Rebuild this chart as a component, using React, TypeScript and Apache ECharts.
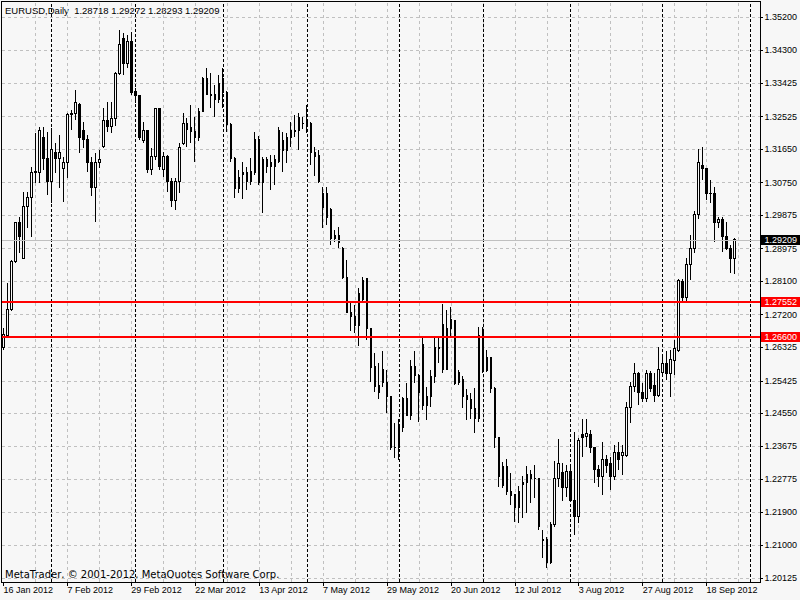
import React, { useEffect, useRef } from 'react';
import * as echarts from 'echarts';

// ---- data ----
const firstDate = '2012-01-16';
const futureSlots = 6;

const open = [
  1.2631, 1.2663, 1.2733, 1.2862, 1.2967, 1.2872, 1.3010, 1.3034, 1.3103, 1.3103,
  1.3197, 1.3141, 1.3079, 1.3157, 1.3141, 1.3112, 1.3128, 1.3257, 1.3260, 1.3286,
  1.3214, 1.3190, 1.3128, 1.3063, 1.3128, 1.3173, 1.3241, 1.3225, 1.3246, 1.3369,
  1.3461, 1.3394, 1.3453, 1.3321, 1.3308, 1.3187, 1.3214, 1.3109, 1.3144, 1.3273,
  1.3109, 1.3144, 1.3077, 1.3028, 1.3077, 1.3179, 1.3235, 1.3222, 1.3211, 1.3195,
  1.3267, 1.3356, 1.3313, 1.3313, 1.3299, 1.3356, 1.3318, 1.3230, 1.3141, 1.3060,
  1.3096, 1.3101, 1.3077, 1.3101, 1.3190, 1.3074, 1.3138, 1.3128, 1.3117, 1.3133,
  1.3187, 1.3160, 1.3195, 1.3211, 1.3214, 1.3235, 1.3238, 1.3235, 1.3157, 1.3149,
  1.3009, 1.3047, 1.3004, 1.2926, 1.2934, 1.2899, 1.2821, 1.2727, 1.2714, 1.2692,
  1.2762, 1.2816, 1.2682, 1.2580, 1.2529, 1.2574, 1.2537, 1.2499, 1.2364, 1.2362,
  1.2416, 1.2496, 1.2448, 1.2580, 1.2558, 1.2639, 1.2477, 1.2499, 1.2555, 1.2628,
  1.2695, 1.2574, 1.2682, 1.2704, 1.2537, 1.2545, 1.2502, 1.2491, 1.2467, 1.2440,
  1.2676, 1.2571, 1.2604, 1.2523, 1.2389, 1.2260, 1.2311, 1.2246, 1.2236, 1.2201,
  1.2265, 1.2270, 1.2292, 1.2281, 1.2279, 1.2117, 1.2117, 1.2053, 1.2155, 1.2281,
  1.2295, 1.2257, 1.2300, 1.2222, 1.2177, 1.2397, 1.2394, 1.2397, 1.2362, 1.2303,
  1.2284, 1.2330, 1.2319, 1.2284, 1.2351, 1.2341, 1.2341, 1.2470, 1.2526, 1.2561,
  1.2510, 1.2496, 1.2563, 1.2529, 1.2502, 1.2566, 1.2590, 1.2563, 1.2598, 1.2625,
  1.2810, 1.2767, 1.2854, 1.2897, 1.2988, 1.3120, 1.3114, 1.3047, 1.3047, 1.2967,
  1.2975, 1.2929, 1.2897, 1.28718
];
const high = [
  1.2684, 1.2805, 1.2867, 1.2970, 1.2983, 1.3049, 1.3050, 1.3117, 1.3208, 1.3224,
  1.3224, 1.3211, 1.3222, 1.3181, 1.3203, 1.3144, 1.3262, 1.3270, 1.3324, 1.3289,
  1.3238, 1.3203, 1.3144, 1.3155, 1.3163, 1.3275, 1.3292, 1.3292, 1.3372, 1.3485,
  1.3477, 1.3472, 1.3480, 1.3329, 1.3310, 1.3238, 1.3216, 1.3168, 1.3275, 1.3275,
  1.3157, 1.3149, 1.3087, 1.3087, 1.3181, 1.3262, 1.3249, 1.3284, 1.3251, 1.3275,
  1.3358, 1.3383, 1.3369, 1.3337, 1.3364, 1.3383, 1.3320, 1.3235, 1.3144, 1.3109,
  1.3131, 1.3117, 1.3141, 1.3211, 1.3200, 1.3144, 1.3144, 1.3149, 1.3149, 1.3224,
  1.3211, 1.3208, 1.3238, 1.3257, 1.3262, 1.3251, 1.3284, 1.3238, 1.3171, 1.3163,
  1.3063, 1.3063, 1.3007, 1.2948, 1.2956, 1.2902, 1.2867, 1.2752, 1.2747, 1.2792,
  1.2821, 1.2819, 1.2684, 1.2617, 1.2590, 1.2623, 1.2572, 1.2502, 1.2429, 1.2440,
  1.2499, 1.2537, 1.2598, 1.2623, 1.2560, 1.2660, 1.2526, 1.2572, 1.2660, 1.2660,
  1.2749, 1.2733, 1.2741, 1.2706, 1.2572, 1.2555, 1.2520, 1.2510, 1.2523, 1.2687,
  1.2687, 1.2625, 1.2606, 1.2526, 1.2392, 1.2324, 1.2332, 1.2295, 1.2238, 1.2260,
  1.2287, 1.2314, 1.2303, 1.2316, 1.2281, 1.2142, 1.2123, 1.2163, 1.2327, 1.2386,
  1.2322, 1.2316, 1.2311, 1.2405, 1.2389, 1.2440, 1.2440, 1.2410, 1.2365, 1.2316,
  1.2378, 1.2343, 1.2338, 1.2370, 1.2378, 1.2370, 1.2486, 1.2539, 1.2590, 1.2566,
  1.2537, 1.2572, 1.2568, 1.2563, 1.2633, 1.2606, 1.2623, 1.2625, 1.2652, 1.2816,
  1.2816, 1.2872, 1.2934, 1.2999, 1.3165, 1.3171, 1.3114, 1.3082, 1.3063, 1.2983,
  1.2983, 1.2969, 1.2907, 1.29272
];
const low = [
  1.2625, 1.2660, 1.2730, 1.2859, 1.2886, 1.2872, 1.2953, 1.2929, 1.3074, 1.3074,
  1.3109, 1.3042, 1.3020, 1.3101, 1.3060, 1.3023, 1.3087, 1.3216, 1.3244, 1.3155,
  1.3168, 1.3103, 1.3039, 1.2969, 1.3114, 1.3168, 1.3211, 1.3208, 1.3227, 1.3364,
  1.3364, 1.3383, 1.3310, 1.3289, 1.3190, 1.3181, 1.3101, 1.3095, 1.3136, 1.3109,
  1.3090, 1.3050, 1.3009, 1.3001, 1.3047, 1.3176, 1.3171, 1.3181, 1.3131, 1.3187,
  1.3265, 1.3310, 1.3275, 1.3251, 1.3289, 1.3275, 1.3211, 1.3131, 1.3034, 1.3047,
  1.3031, 1.3055, 1.3069, 1.3095, 1.3069, 1.2993, 1.3101, 1.3055, 1.3069, 1.3128,
  1.3104, 1.3128, 1.3171, 1.3198, 1.3163, 1.3219, 1.3208, 1.3122, 1.3093, 1.3074,
  1.2953, 1.2961, 1.2907, 1.2915, 1.2899, 1.2816, 1.2725, 1.2676, 1.2671, 1.2636,
  1.2752, 1.2652, 1.2539, 1.2512, 1.2493, 1.2526, 1.2456, 1.2357, 1.2335, 1.2330,
  1.2405, 1.2448, 1.2437, 1.2537, 1.2432, 1.2464, 1.2437, 1.2472, 1.2537, 1.2590,
  1.2564, 1.2571, 1.2657, 1.2531, 1.2531, 1.2469, 1.2437, 1.2440, 1.2402, 1.2432,
  1.2564, 1.2566, 1.2510, 1.2362, 1.2257, 1.2254, 1.2236, 1.2209, 1.2163, 1.2160,
  1.2174, 1.2187, 1.2214, 1.2228, 1.2142, 1.2066, 1.2040, 1.2050, 1.2150, 1.2257,
  1.2219, 1.2230, 1.2217, 1.2128, 1.2160, 1.2338, 1.2365, 1.2349, 1.2268, 1.2257,
  1.2236, 1.2295, 1.2249, 1.2276, 1.2303, 1.2290, 1.2338, 1.2429, 1.2512, 1.2477,
  1.2486, 1.2486, 1.2512, 1.2486, 1.2499, 1.2553, 1.2545, 1.2499, 1.2558, 1.2620,
  1.2755, 1.2755, 1.2813, 1.2886, 1.2977, 1.3082, 1.3028, 1.3020, 1.2915, 1.2953,
  1.2889, 1.2894, 1.2832, 1.28293
];
const close = [
  1.2666, 1.2733, 1.2862, 1.2967, 1.2929, 1.3010, 1.3034, 1.3103, 1.3106, 1.3216,
  1.3141, 1.3079, 1.3163, 1.3141, 1.3155, 1.3128, 1.3257, 1.3260, 1.3289, 1.3195,
  1.3190, 1.3128, 1.3063, 1.3128, 1.3136, 1.3241, 1.3227, 1.3246, 1.3369, 1.3445,
  1.3396, 1.3453, 1.3318, 1.3308, 1.3195, 1.3214, 1.3109, 1.3144, 1.3273, 1.3117,
  1.3144, 1.3077, 1.3028, 1.3077, 1.3168, 1.3235, 1.3219, 1.3211, 1.3195, 1.3267,
  1.3356, 1.3313, 1.3310, 1.3299, 1.3340, 1.3318, 1.3230, 1.3141, 1.3060, 1.3090,
  1.3101, 1.3077, 1.3106, 1.3190, 1.3074, 1.3138, 1.3119, 1.3117, 1.3136, 1.3216,
  1.3160, 1.3195, 1.3214, 1.3216, 1.3249, 1.3233, 1.3233, 1.3155, 1.3146, 1.3079,
  1.3047, 1.2980, 1.2926, 1.2934, 1.2913, 1.2819, 1.2727, 1.2714, 1.2692, 1.2776,
  1.2813, 1.2682, 1.2577, 1.2526, 1.2512, 1.2537, 1.2499, 1.2362, 1.2362, 1.2416,
  1.2496, 1.2448, 1.2580, 1.2558, 1.2512, 1.2477, 1.2499, 1.2555, 1.2631, 1.2633,
  1.2574, 1.2682, 1.2706, 1.2534, 1.2566, 1.2499, 1.2491, 1.2467, 1.2440, 1.2663,
  1.2571, 1.2606, 1.2523, 1.2389, 1.2284, 1.2311, 1.2244, 1.2233, 1.2201, 1.2246,
  1.2270, 1.2292, 1.2279, 1.2279, 1.2150, 1.2112, 1.2053, 1.2155, 1.2279, 1.2319,
  1.2257, 1.2300, 1.2220, 1.2177, 1.2383, 1.2391, 1.2400, 1.2362, 1.2303, 1.2284,
  1.2330, 1.2316, 1.2284, 1.2351, 1.2330, 1.2350, 1.2470, 1.2526, 1.2561, 1.2510,
  1.2496, 1.2563, 1.2523, 1.2502, 1.2574, 1.2590, 1.2563, 1.2601, 1.2628, 1.2813,
  1.2767, 1.2854, 1.2897, 1.2988, 1.3128, 1.3114, 1.3045, 1.3045, 1.2967, 1.2977,
  1.2929, 1.2897, 1.2870, 1.29209
];

const yTickValues = [
  1.352, 1.343, 1.33425, 1.32525, 1.3165, 1.3075, 1.29875, 1.28975, 1.281,
  1.272, 1.26325, 1.25425, 1.2455, 1.23675, 1.22775, 1.219, 1.21, 1.20125
];
const levelLines = [1.27552, 1.266];
const separatorDates = [
  '1 Feb 2012', '1 Mar 2012', '2 Apr 2012', '1 May 2012', '1 Jun 2012',
  '2 Jul 2012', '1 Aug 2012', '3 Sep 2012', '3 Oct 2012'
];
const symbolName = 'EURUSD';
const periodName = 'Daily';
const copyright = 'MetaTrader, \u00A9 2001-2012, MetaQuotes Software Corp.';

// ---- helpers ----
const MONTHS = ['Jan', 'Feb', 'Mar', 'Apr', 'May', 'Jun', 'Jul', 'Aug', 'Sep', 'Oct', 'Nov', 'Dec'];
function tradingDays(start: string, count: number): string[] {
  const out: string[] = [];
  const d = new Date(start + 'T00:00:00Z');
  while (out.length < count) {
    const wd = d.getUTCDay();
    if (wd !== 0 && wd !== 6) {
      out.push(`${d.getUTCDate()} ${MONTHS[d.getUTCMonth()]} ${d.getUTCFullYear()}`);
    }
    d.setUTCDate(d.getUTCDate() + 1);
  }
  return out;
}

const FONT = "'Liberation Sans', Arial, sans-serif";
const WIDE_FONT = "'DejaVu Sans', 'Liberation Sans', sans-serif";

export default function App() {
  const ref = useRef<HTMLDivElement>(null);
  useEffect(() => {
    if (!ref.current) return;
    const chart = echarts.init(ref.current, null, { renderer: 'svg' });
    const n = open.length;
    const categories = tradingDays(firstDate, n + futureSlots);
    const candles = open.map((o, i) => [o, close[i], low[i], high[i]]);
    const last = n - 1;
    const fmt = (v: number) => v.toFixed(5);
    const gridLineIdx: number[] = [];
    for (let i = 8; i < categories.length; i += 8) gridLineIdx.push(i);

    const option: any = {
      animation: false,
      backgroundColor: '#f7f7f7',
      textStyle: { fontFamily: FONT },
      grid: {
        left: 1.5, right: 38.5, top: 1, bottom: 18,
        show: true, borderColor: '#000', borderWidth: 1, backgroundColor: 'transparent'
      },
      xAxis: {
        type: 'category',
        data: categories,
        boundaryGap: true,
        axisLine: { show: true, lineStyle: { color: '#000', width: 1 } },
        axisTick: { show: true, interval: 15, alignWithLabel: true, length: 4, lineStyle: { color: '#000' } },
        axisLabel: { interval: 15, align: 'left', margin: 3, fontSize: 9, color: '#000', fontFamily: FONT },
        splitLine: { show: false }
      },
      yAxis: {
        type: 'value',
        position: 'right',
        min: 1.20018,
        max: 1.3563,
        scale: true,
        axisLine: { show: true, lineStyle: { color: '#000', width: 1 } },
        axisTick: { show: true, length: 3, customValues: yTickValues, lineStyle: { color: '#000' } },
        axisLabel: {
          customValues: yTickValues, margin: 4, fontSize: 9, color: '#000', fontFamily: FONT,
          formatter: (v: number) => fmt(v)
        },
        splitLine: { show: true, lineStyle: { color: '#c0c0c0', type: [3, 3], width: 1 } }
      },
      graphic: [
        {
          type: 'text', left: 5, top: 5, silent: true,
          style: {
            text: `${symbolName},${periodName}  ${fmt(open[last])} ${fmt(high[last])} ${fmt(low[last])} ${fmt(close[last])}`,
            fill: '#000', font: `9.5px ${FONT}`
          }
        },
        {
          type: 'text', left: 5, top: 569, silent: true,
          style: { text: copyright, fill: '#000', font: `10px ${WIDE_FONT}` }
        }
      ],
      series: [
        {
          type: 'line',
          data: [],
          silent: true,
          z: 1,
          markLine: {
            silent: true,
            symbol: 'none',
            z: 1,
            animation: false,
            label: { show: false },
            data: [
              ...gridLineIdx.map((i) => ({
                xAxis: categories[i],
                lineStyle: { color: '#c0c0c0', type: [3, 3], width: 1 }
              })),
              ...separatorDates.map((d) => ({
                xAxis: d,
                lineStyle: { color: '#000', type: [3, 2], width: 1 }
              }))
            ]
          }
        },
        {
          type: 'candlestick',
          data: candles,
          barWidth: 2,
          z: 3,
          itemStyle: {
            color: '#f7f7f7',
            color0: '#000000',
            borderColor: '#000000',
            borderColor0: '#000000',
            borderWidth: 1
          },
          markLine: {
            silent: true,
            symbol: 'none',
            precision: 5,
            z: 5,
            animation: false,
            data: [
              {
                yAxis: close[last],
                lineStyle: { color: '#c0c0c0', type: 'solid', width: 1 },
                label: {
                  show: true, position: 'end', distance: 1, formatter: () => fmt(close[last]),
                  backgroundColor: '#000', color: '#fff', padding: [1, 5, 0, 3],
                  fontSize: 9, fontFamily: FONT
                }
              },
              ...levelLines.map((v) => ({
                yAxis: v,
                lineStyle: { color: '#ff0000', type: 'solid', width: 2 },
                label: {
                  show: true, position: 'end', distance: 1, formatter: () => fmt(v),
                  backgroundColor: '#ff0000', color: '#fff', padding: [1, 5, 0, 3],
                  fontSize: 9, fontFamily: FONT
                }
              }))
            ]
          }
        }
      ]
    };
    chart.setOption(option);
    return () => chart.dispose();
  }, []);
  return (
    <>
      <style>{`.mt-chart svg path, .mt-chart svg line, .mt-chart svg rect, .mt-chart svg polyline { shape-rendering: crispEdges; }`}</style>
      <div className="mt-chart" ref={ref} style={{ width: 800, height: 600, position: 'absolute', left: 0, top: 0 }} />
    </>
  );
}
